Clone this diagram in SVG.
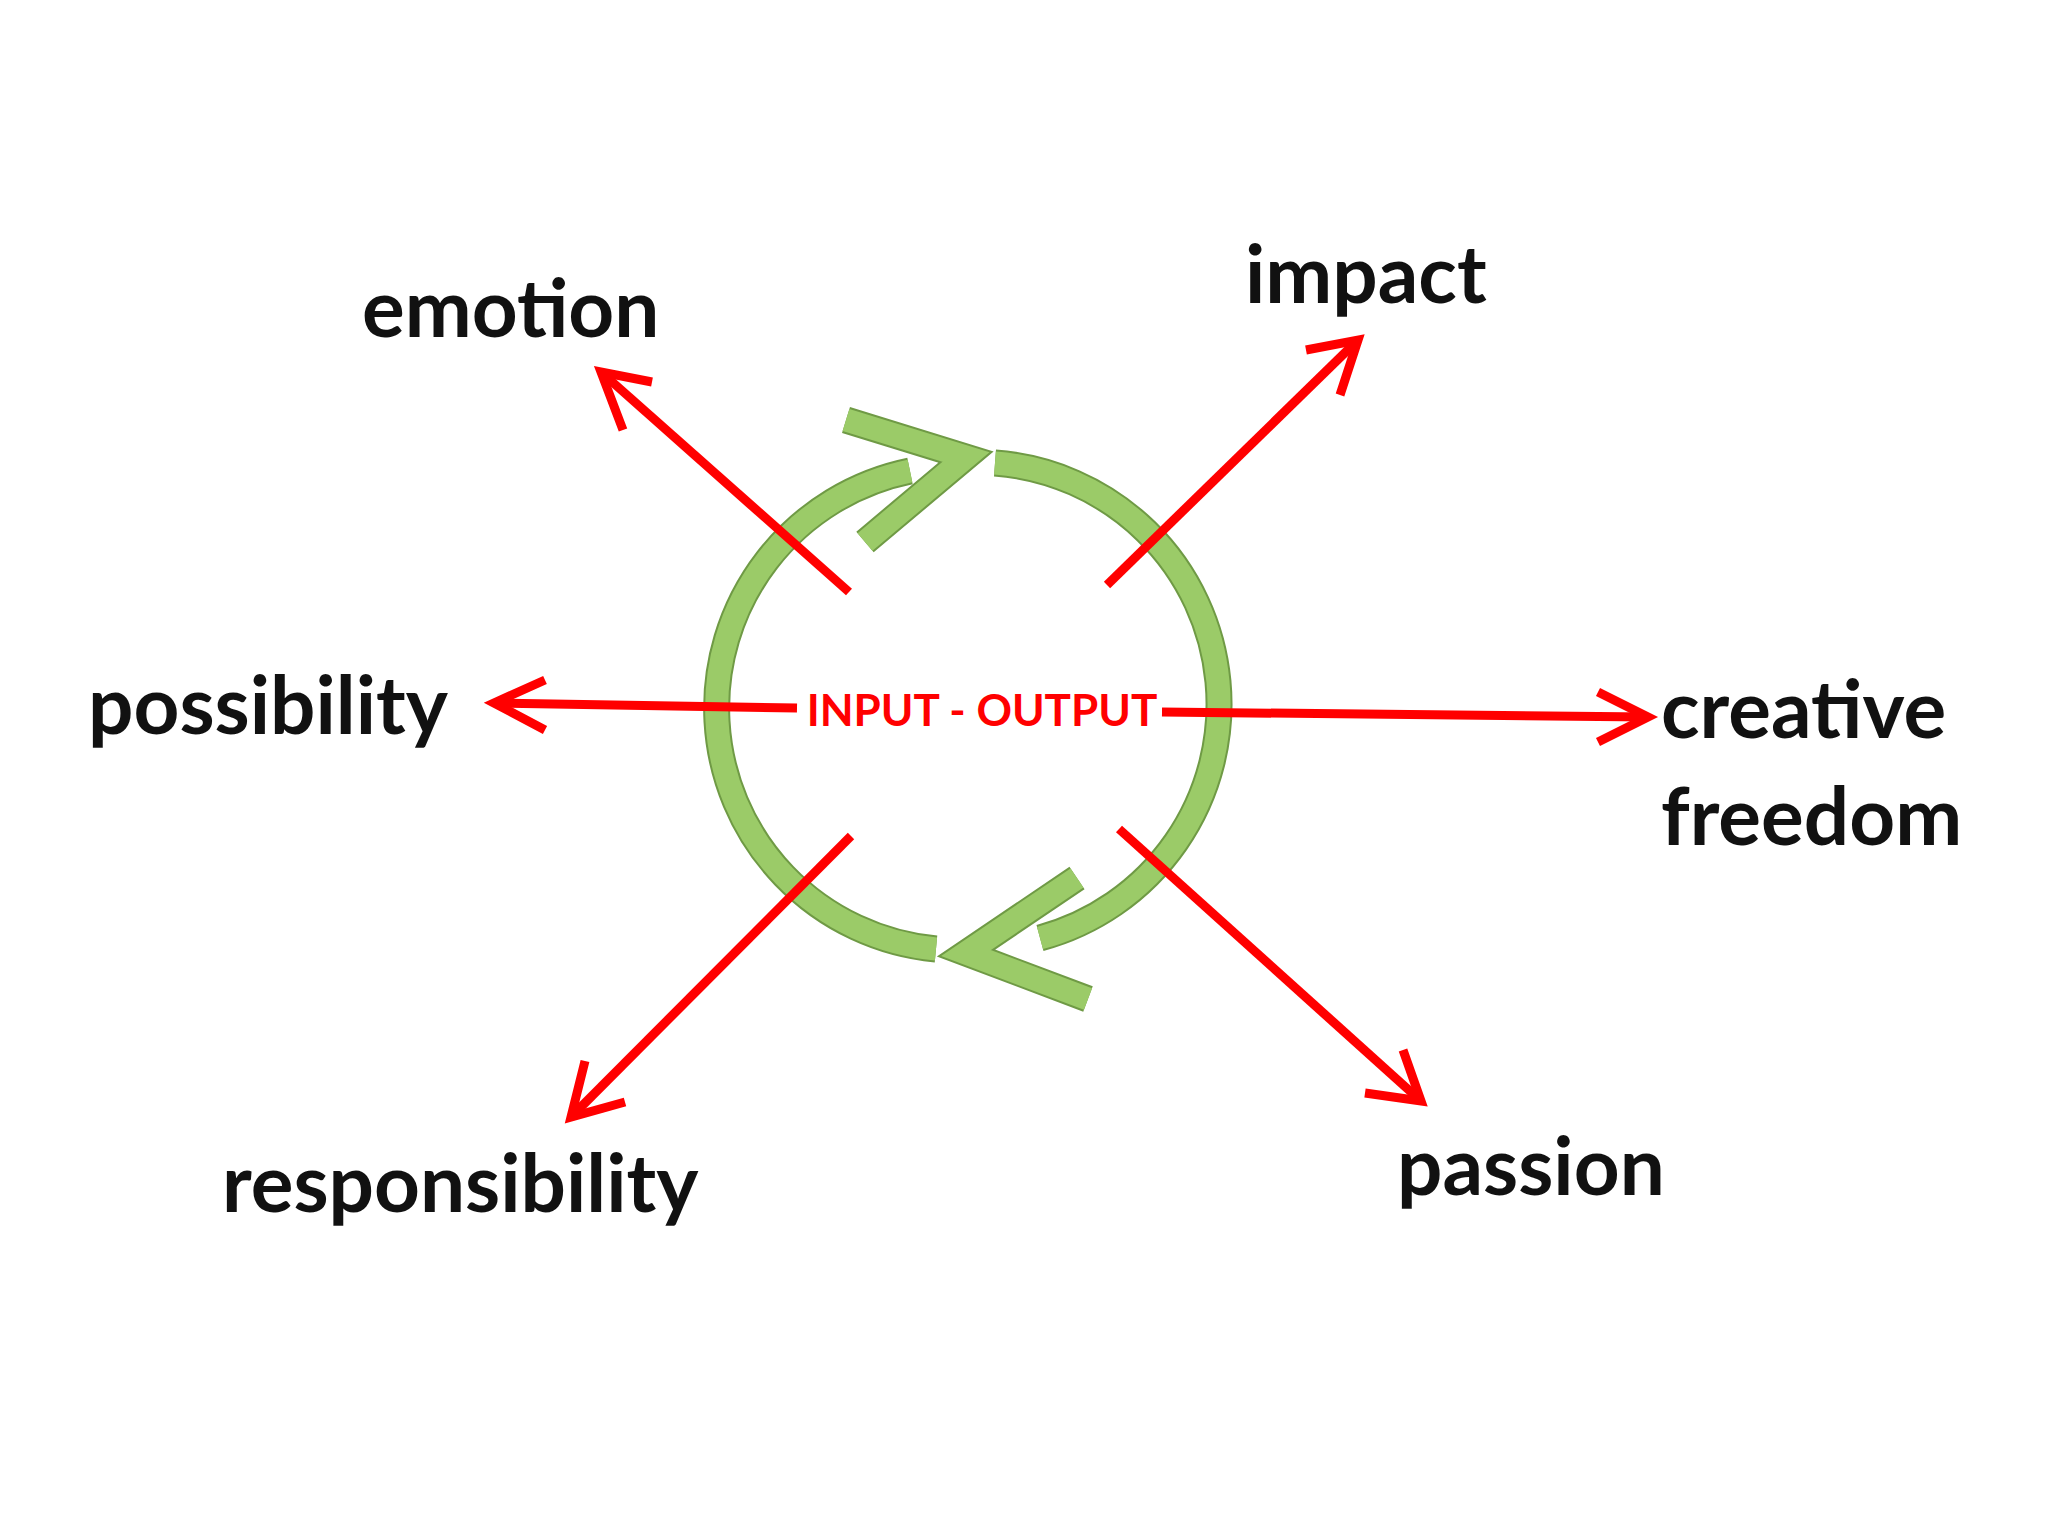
<svg xmlns="http://www.w3.org/2000/svg" width="2048" height="1536" viewBox="0 0 2048 1536">
<style>
.lbl{font-family:Lato,"Open Sans",sans-serif;font-weight:bold;font-size:80px;fill:#111}
.r{stroke:#f00;stroke-width:9;fill:none}
.ah{stroke:#f00;stroke-width:9;fill:none;stroke-linecap:butt}
.go{stroke:#6f9a45;stroke-width:27;fill:none}
.gi{stroke:#9bcb68;stroke-width:23;fill:none}
</style>
<defs>
<marker id="a" viewBox="0 0 20 20" refX="17" refY="10" markerWidth="9" markerHeight="9" orient="auto" markerUnits="userSpaceOnUse">
</marker>
</defs>
<rect width="2048" height="1536" fill="#fff"/>
<g id="cycle">
<path class="go" d="M995 463 A242 242 0 0 1 1040 938"/>
<path class="go" d="M936 949 A242 242 0 0 1 910 471"/>
<path class="go" d="M1077 878 L966 953 L1088 999" stroke-linejoin="miter"/>
<path class="go" d="M846 420 L966 457 L865 542" stroke-linejoin="miter"/>
<path class="gi" d="M995 463 A242 242 0 0 1 1040 938"/>
<path class="gi" d="M936 949 A242 242 0 0 1 910 471"/>
<path class="gi" d="M1077 878 L966 953 L1088 999" stroke-linejoin="miter"/>
<path class="gi" d="M846 420 L966 457 L865 542" stroke-linejoin="miter"/>
</g>
<g id="connectors">
<line class="r" x1="849" y1="592" x2="601" y2="372"/>
<path class="ah" d="M623 430 L601 372 L652 382"/>
<line class="r" x1="1107" y1="585" x2="1358" y2="340"/>
<path class="ah" d="M1306 350 L1358 340 L1340 395"/>
<line class="r" x1="797" y1="708" x2="494" y2="703"/>
<path class="ah" d="M545 680 L494 703 L545 730"/>
<line class="r" x1="1162" y1="712" x2="1648" y2="717"/>
<path class="ah" d="M1598 692 L1648 717 L1598 742"/>
<line class="r" x1="851" y1="836" x2="571" y2="1117"/>
<path class="ah" d="M585 1061 L571 1117 L625 1102"/>
<line class="r" x1="1119" y1="829" x2="1421" y2="1101"/>
<path class="ah" d="M1365 1093 L1421 1101 L1403 1050"/>
</g>
<g id="center"><text x="982" y="726" text-anchor="middle" font-family="Lato,'Open Sans',sans-serif" font-weight="bold" font-size="44" fill="#f00">INPUT - OUTPUT</text></g>
<g id="emotion"><text class="lbl" x="362" y="337">emotion</text></g>
<g id="impact"><text class="lbl" x="1245" y="303">impact</text></g>
<g id="possibility"><text class="lbl" x="88" y="734">possibility</text></g>
<g id="creative"><text class="lbl" x="1661" y="738">creative</text><text class="lbl" x="1661" y="845">freedom</text></g>
<g id="responsibility"><text class="lbl" x="222" y="1212">responsibility</text></g>
<g id="passion"><text class="lbl" x="1397" y="1195">passion</text></g>
</svg>
